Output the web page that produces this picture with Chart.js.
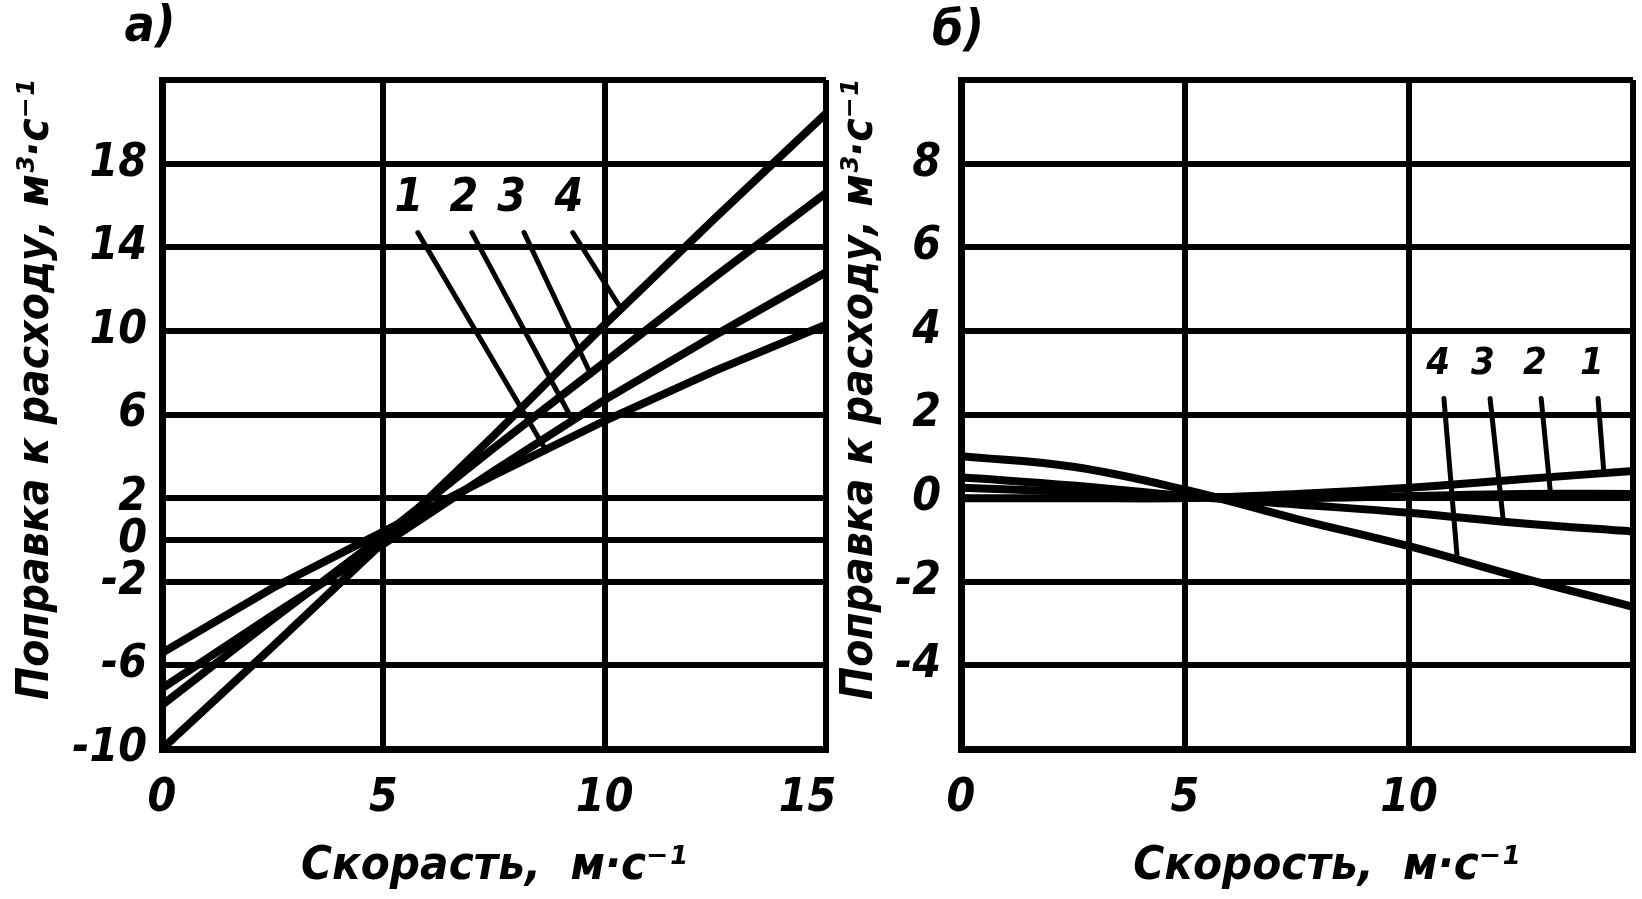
<!DOCTYPE html>
<html lang="ru">
<head>
<meta charset="utf-8">
<title>Поправка к расходу</title>
<script src="https://cdn.jsdelivr.net/npm/chart.js@4.4.1/dist/chart.umd.min.js"></script>
<style>
  html, body { margin: 0; padding: 0; background: #fff; }
  body { width: 1642px; height: 899px; position: relative; overflow: hidden; }
  .panel { position: absolute; top: 0; height: 899px; }
  #panel-a { left: 0; width: 900px; }
  #panel-b { left: 830px; width: 845px; }
</style>
</head>
<body>
<div class="panel" id="panel-a"><canvas id="chart-a"></canvas></div>
<div class="panel" id="panel-b"><canvas id="chart-b"></canvas></div>
<script>
// ── Данные ───────────────────────────────────────────────────
const speed = [0, 2.5, 5, 7.5, 10, 12.5, 15];          // скорость, м/с

// а) — кривые 1…4
const corrA1 = [-5.4, -2.3, 0.4, 3.1, 5.7, 8.1, 10.3];
const corrA2 = [-7.1, -3.6, -0.2, 3.3, 6.7, 9.8, 12.8];
const corrA3 = [-7.9, -3.8, 0.2, 4.4, 8.5, 12.6, 16.6];
const corrA4 = [-10.0, -5.1, -0.1, 5.0, 10.3, 15.4, 20.4];

// б) — кривые 1…4
const corrB1 = [0.0, 0.0, 0.0, 0.1, 0.25, 0.45, 0.65];
const corrB2 = [0.25, 0.15, 0.05, 0.0, 0.05, 0.1, 0.1];
const corrB3 = [0.5, 0.3, 0.05, -0.15, -0.35, -0.6, -0.8];
const corrB4 = [1.0, 0.75, 0.2, -0.5, -1.15, -1.9, -2.6];

// деления осей ('15' сдвинута влево от рамки, как на оригинале)
const xTicks   = [0, 5, 10, 15];
const xLabelsA = ['0', '5', '10', '15\u2007\u2009'];
const xLabelsB = ['0', '5', '10', ''];
const yTicksA  = [-10, -6, -2, 0, 2, 6, 10, 14, 18, 22];
const yLabelsA = ['-10', '-6', '-2', '0', '2', '6', '10', '14', '18', ''];
const yTicksB  = [-6, -4, -2, 0, 2, 4, 6, 8, 10];
const yLabelsB = ['', '-4', '-2', '0', '2', '4', '6', '8', ''];

// ── Оформление ───────────────────────────────────────────────
const FONT = "'Liberation Sans Narrow', 'DejaVu Sans Condensed', 'Liberation Sans', sans-serif";
const font = size => ({ family: FONT, size: size, style: 'italic', weight: 'bold' });

// выноски с номерами кривых + буква панели
const leaderPlugin = {
  id: 'leaders',
  afterDraw(chart, args, opts) {
    const { ctx, chartArea } = chart;
    const x = chart.scales.x, y = chart.scales.y;
    ctx.save();
    ctx.strokeStyle = '#000';
    ctx.fillStyle   = '#000';
    ctx.lineWidth   = opts.lineWidth;
    ctx.lineCap     = 'round';
    ctx.textAlign   = 'center';
    ctx.textBaseline = 'middle';
    ctx.font = `italic bold ${opts.size}px ${FONT}`;
    opts.items.forEach(it => {
      ctx.beginPath();
      ctx.moveTo(x.getPixelForValue(it.from[0]), y.getPixelForValue(it.from[1]));
      ctx.lineTo(x.getPixelForValue(it.to[0]),   y.getPixelForValue(it.to[1]));
      ctx.stroke();
      ctx.fillText(it.text, x.getPixelForValue(it.at[0]), y.getPixelForValue(it.at[1]));
    });
    ctx.font = `italic bold 50px ${FONT}`;
    ctx.fillText(opts.panel, chartArea.left + opts.panelDx, opts.panelY);
    ctx.restore();
  }
};

function serie(values) {
  return {
    data: speed.map((v, i) => ({ x: v, y: values[i] })),
    borderColor: '#000',
    borderWidth: 8,
    pointRadius: 0,
    fill: false
  };
}

function makePanel(id, cfg) {
  return new Chart(document.getElementById(id), {
    type: 'line',
    data: { datasets: cfg.series.map(s => Object.assign(serie(s), { tension: cfg.tension })) },
    plugins: [leaderPlugin],
    options: {
      responsive: true,
      maintainAspectRatio: false,
      animation: false,
      layout: { padding: { top: 80, right: cfg.padRight, bottom: 0, left: 0 } },
      plugins: {
        legend : { display: false },
        tooltip: { enabled: false },
        leaders: cfg.leaders
      },
      scales: {
        x: {
          type: 'linear',
          min: 0,
          max: 15,
          afterBuildTicks: s => { s.ticks = xTicks.map(v => ({ value: v })); },
          afterFit: s => { s.height = 150; },
          grid  : { color: '#000', lineWidth: 6, drawTicks: false },
          border: { color: '#000', width: 7 },
          ticks : {
            color: '#000', font: font(46), padding: 22, maxRotation: 0, autoSkip: false,
            callback: (v, i) => cfg.xLabels[i]
          },
          title : { display: true, text: cfg.xTitle, color: '#000', font: font(47),
                    padding: { top: 0, bottom: 4 } }
        },
        y: {
          type: 'linear',
          min: cfg.yTicks[0],
          max: cfg.yTicks[cfg.yTicks.length - 1],
          afterBuildTicks: s => { s.ticks = cfg.yTicks.map(v => ({ value: v })); },
          afterFit: s => { s.width = cfg.yWidth; },
          grid  : { color: '#000', lineWidth: 6, drawTicks: false },
          border: { color: '#000', width: 7 },
          ticks : {
            color: '#000', font: font(46), padding: cfg.yPad, autoSkip: false,
            callback: (v, i) => cfg.yLabels[i]
          },
          title : { display: true, text: 'Поправка к расходу, м³·с⁻¹', color: '#000',
                    font: font(44), align: 'end', padding: { top: cfg.yTitlePad, bottom: 0 } }
        }
      }
    }
  });
}

makePanel('chart-a', {
  series: [corrA1, corrA2, corrA3, corrA4],
  tension: 0,
  padRight: 74,
  yWidth: 162,
  yPad: 15,
  yTitlePad: 10,
  yTicks: yTicksA,
  yLabels: yLabelsA,
  xLabels: xLabelsA,
  xTitle: 'Скорасть,  м·с⁻¹',
  leaders: {
    panel: 'а)', panelDx: -12, panelY: 28,
    size: 46, lineWidth: 5,
    items: [
      { text: '1', at: [5.58, 16.3], from: [5.78, 14.7], to: [8.67, 4.3] },
      { text: '2', at: [6.82, 16.3], from: [7.0, 14.7],  to: [9.28, 5.7] },
      { text: '3', at: [7.9, 16.3],  from: [8.18, 14.7], to: [9.69, 7.9] },
      { text: '4', at: [9.19, 16.3], from: [9.28, 14.7], to: [10.39, 11.0] }
    ]
  }
});

makePanel('chart-b', {
  series: [corrB1, corrB2, corrB3, corrB4],
  tension: 0.4,
  padRight: 42,
  yWidth: 131,
  yPad: 20,
  yTitlePad: 4,
  yTicks: yTicksB,
  yLabels: yLabelsB,
  xLabels: xLabelsB,
  // подпись на оригинале смещена вправо от центра поля
  xTitle: '\u2007\u2007Скорость,  м·с⁻¹',
  leaders: {
    panel: 'б)', panelDx: -3, panelY: 32,
    size: 38, lineWidth: 5,
    items: [
      { text: '4', at: [10.65, 3.2], from: [10.78, 2.38], to: [11.07, -1.35] },
      { text: '3', at: [11.65, 3.2], from: [11.81, 2.38], to: [12.1, -0.5] },
      { text: '2', at: [12.81, 3.2], from: [12.95, 2.38], to: [13.15, 0.2] },
      { text: '1', at: [14.08, 3.2], from: [14.22, 2.38], to: [14.35, 0.6] }
    ]
  }
});
</script>
</body>
</html>
